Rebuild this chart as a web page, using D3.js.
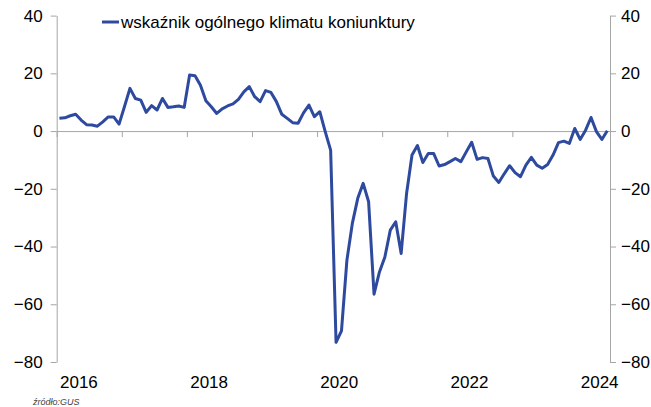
<!DOCTYPE html>
<html>
<head>
<meta charset="utf-8">
<script src="https://cdn.jsdelivr.net/npm/d3@7"></script>
<style>
  body { margin: 0; background: #fff; }
  svg text { font-family: "Liberation Sans", Arial, sans-serif; }
</style>
</head>
<body>
<div id="container"></div>
<script>
/* DATA: monthly, Jan 2016 - Jun 2024 */
const months = d3.timeMonth.range(new Date(2016, 0, 1), new Date(2024, 6, 1)).map(d3.timeFormat("%Y-%m"));
const climate = [
  4.4, 4.6, 5.3, 5.8, 3.8, 2.2, 2.1, 1.7, 3.2, 4.9, 4.9, 2.4,
  8.5, 14.8, 11.3, 10.7, 6.5, 8.8, 7.3, 11.3, 8.2, 8.4, 8.7, 8.2,
  19.4, 19.2, 15.9, 10.5, 8.4, 6.1, 7.7, 8.7, 9.4, 11.0, 13.6, 15.4,
  11.9, 10.2, 14.0, 13.4, 10.2, 5.8, 4.4, 2.9, 2.7, 6.3, 9.0, 5.0,
  6.7, -0.2, -6.6, -73.2, -69.2, -44.7, -32.0, -23.3, -18.1, -24.5, -56.5, -48.8,
  -43.6, -34.3, -31.4, -42.4, -21.6, -8.3, -5.0, -10.9, -7.8, -7.8, -12.1, -11.6,
  -10.6, -9.5, -10.6, -7.2, -3.9, -9.8, -9.2, -9.5, -15.6, -17.8, -14.8, -12.0,
  -14.4, -15.8, -11.8, -9.1, -11.8, -12.9, -11.6, -8.3, -4.0, -3.5, -4.3, 0.9,
  -2.9, 0.3, 4.7, -0.2, -2.9, 0.1
];
const yearLabels = ["2016", "2018", "2020", "2022", "2024"];
const labelMonths = ["2016-05", "2018-05", "2020-05", "2022-05", "2024-05"];
const yTicks = [40, 20, 0, -20, -40, -60, -80];
const seriesName = "wskaźnik ogólnego klimatu koniunktury";

/* CONSTANTS */
const width = 651, height = 407;
const plot = { left: 56.7, right: 610, top: 15.6, bottom: 362 };
const axisColor = "#a6a6a6";
const lineColor = "#2e4a9e";

/* SCALES */
const xScale = d3.scaleLinear()
  .domain([0, months.length])
  .range([plot.left, plot.right]);

const yScale = d3.scaleLinear()
  .domain([-80, 40])
  .range([plot.bottom, plot.top]);

const svg = d3.select("#container")
  .append("svg")
  .attr("width", width)
  .attr("height", height);

// y axes, left and right
const yLeft = svg.append("g")
  .attr("transform", `translate(${plot.left},0)`)
  .call(d3.axisLeft(yScale).tickValues(yTicks).tickSize(6).tickSizeOuter(0).tickPadding(8));

const yRight = svg.append("g")
  .attr("transform", `translate(${plot.right},0)`)
  .call(d3.axisRight(yScale).tickValues(yTicks).tickSize(6).tickSizeOuter(0).tickPadding(5));

[yLeft, yRight].forEach(g => {
  g.select(".domain").attr("stroke", axisColor);
  g.selectAll(".tick line").attr("stroke", axisColor);
  g.selectAll("text").attr("font-size", 17).attr("fill", "#000")
    .attr("font-family", "Liberation Sans, Arial, sans-serif");
});

// zero line with yearly ticks
const yearStarts = months.map((m, i) => m.endsWith("-01") ? i : null).filter(i => i !== null);
const zeroAxis = svg.append("g")
  .attr("transform", `translate(0,${yScale(0)})`)
  .call(d3.axisBottom(xScale).tickValues(yearStarts).tickSize(6).tickSizeOuter(0).tickFormat(""));
zeroAxis.select(".domain").attr("stroke", axisColor);
zeroAxis.selectAll(".tick line").attr("stroke", axisColor);

// year labels under the plot
const labelAxis = svg.append("g")
  .attr("transform", `translate(0,${plot.bottom + 14})`)
  .call(d3.axisBottom(xScale)
    .tickValues(labelMonths.map(m => months.indexOf(m)))
    .tickFormat((d, i) => yearLabels[i])
    .tickSize(0).tickPadding(0));
labelAxis.select(".domain").remove();
labelAxis.selectAll("text").attr("font-size", 17).attr("fill", "#000")
  .attr("font-family", "Liberation Sans, Arial, sans-serif");

// line
const line = d3.line()
  .x((d, i) => xScale(i + 0.5))
  .y(d => yScale(d));

svg.append("path")
  .datum(climate)
  .attr("fill", "none")
  .attr("stroke", lineColor)
  .attr("stroke-width", 3)
  .attr("stroke-linejoin", "round")
  .attr("d", line);

// legend
svg.append("line")
  .attr("x1", 102).attr("x2", 119)
  .attr("y1", 22).attr("y2", 22)
  .attr("stroke", lineColor)
  .attr("stroke-width", 3);
svg.append("text")
  .attr("x", 121).attr("y", 22)
  .attr("dy", "0.35em")
  .attr("font-size", 17)
  .text(seriesName);

// source
svg.append("text")
  .attr("x", 33).attr("y", 405)
  .attr("font-size", 9)
  .attr("font-style", "italic")
  .attr("fill", "#444")
  .text("źródło:GUS");
</script>
</body>
</html>
